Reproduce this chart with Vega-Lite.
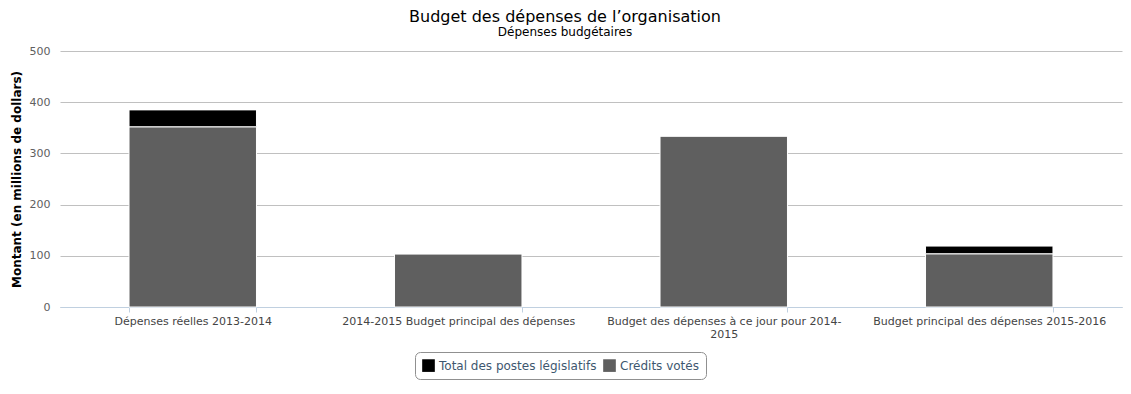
{
  "$schema": "https://vega.github.io/schema/vega-lite/v6.json",
  "width": 1062,
  "height": 256,
  "autosize": {"type": "none"},
  "padding": {"left": 60, "top": 51, "right": 9, "bottom": 87},
  "background": "white",
  "title": {
    "text": "Budget des dépenses de l’organisation",
    "subtitle": "Dépenses budgétaires",
    "anchor": "middle",
    "dx": -26,
    "offset": 7,
    "font": "DejaVu Sans",
    "fontSize": 16,
    "fontWeight": "normal",
    "color": "#000000",
    "subtitleFont": "DejaVu Sans",
    "subtitleFontSize": 12,
    "subtitleColor": "#000000",
    "subtitlePadding": 2
  },
  "data": {
    "values": [
      {"categorie": "Dépenses réelles 2013-2014", "type": "Crédits votés", "montant": 352, "ordre": 1},
      {"categorie": "Dépenses réelles 2013-2014", "type": "Total des postes législatifs", "montant": 33, "ordre": 0},
      {"categorie": "2014-2015 Budget principal des dépenses", "type": "Crédits votés", "montant": 104, "ordre": 1},
      {"categorie": "2014-2015 Budget principal des dépenses", "type": "Total des postes législatifs", "montant": 0, "ordre": 0},
      {"categorie": "Budget des dépenses à ce jour pour 2014-2015", "type": "Crédits votés", "montant": 334, "ordre": 1},
      {"categorie": "Budget des dépenses à ce jour pour 2014-2015", "type": "Total des postes législatifs", "montant": 0, "ordre": 0},
      {"categorie": "Budget principal des dépenses 2015-2016", "type": "Crédits votés", "montant": 104, "ordre": 1},
      {"categorie": "Budget principal des dépenses 2015-2016", "type": "Total des postes législatifs", "montant": 15, "ordre": 0}
    ]
  },
  "mark": {"type": "bar", "stroke": "white", "strokeWidth": 1},
  "encoding": {
    "x": {
      "field": "categorie",
      "type": "nominal",
      "sort": null,
      "scale": {"paddingInner": 0.52, "paddingOuter": 0.26},
      "axis": {
        "title": null,
        "labelAngle": 0,
        "labelFont": "DejaVu Sans",
        "labelFontSize": 11,
        "labelColor": "#444444",
        "labelPadding": 3,
        "labelLimit": 300,
        "labelExpr": "datum.label == 'Budget des dépenses à ce jour pour 2014-2015' ? ['Budget des dépenses à ce jour pour 2014-', '2015'] : datum.label",
        "domainColor": "#C0D0E0",
        "tickColor": "#C0D0E0",
        "tickBand": "extent",
        "tickSize": 5,
        "grid": false
      }
    },
    "y": {
      "field": "montant",
      "type": "quantitative",
      "stack": "zero",
      "scale": {"domain": [0, 500]},
      "axis": {
        "title": "Montant (en millions de dollars)",
        "titleFont": "DejaVu Sans",
        "titleFontSize": 12,
        "titleFontWeight": "bold",
        "titleColor": "#000000",
        "titlePadding": 6,
        "values": [0, 100, 200, 300, 400, 500],
        "labelFont": "DejaVu Sans",
        "labelFontSize": 11,
        "labelColor": "#606060",
        "labelPadding": 10,
        "ticks": false,
        "domain": false,
        "gridColor": "#C0C0C0",
        "gridWidth": 1
      }
    },
    "color": {
      "field": "type",
      "type": "nominal",
      "sort": ["Total des postes législatifs", "Crédits votés"],
      "scale": {"domain": ["Total des postes législatifs", "Crédits votés"], "range": ["#000000", "#5f5f5f"]},
      "legend": {
        "title": null,
        "orient": "none",
        "legendX": 355,
        "legendY": 301,
        "direction": "horizontal",
        "symbolType": "square",
        "symbolSize": 160,
        "symbolStrokeWidth": 0,
        "labelFont": "DejaVu Sans",
        "labelFontSize": 12,
        "labelColor": "#3E576F",
        "padding": 7,
        "strokeColor": "#909090",
        "cornerRadius": 5,
        "columnPadding": 6,
        "labelOffset": 4
      }
    },
    "order": {"field": "ordre", "type": "quantitative", "sort": "descending"}
  },
  "config": {"view": {"stroke": null}}
}
